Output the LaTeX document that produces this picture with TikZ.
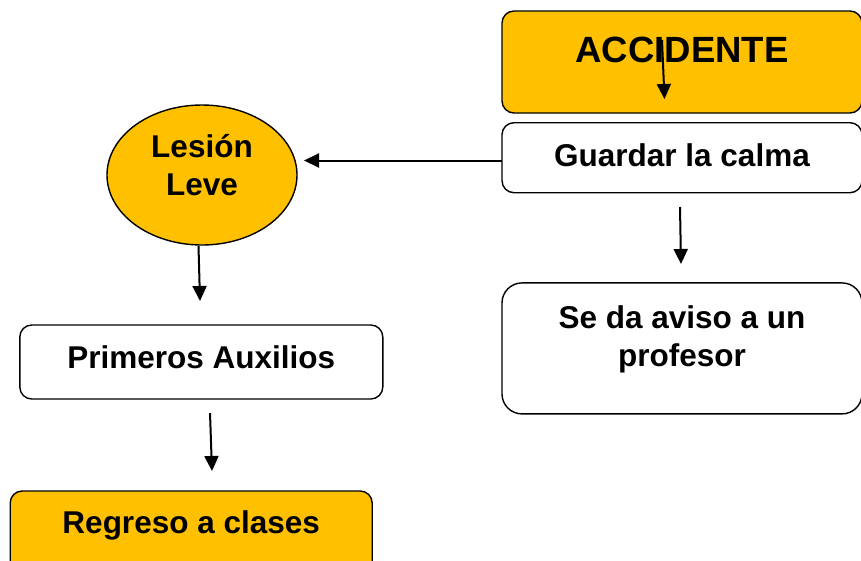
\documentclass[tikz,border=0pt]{standalone}
\usepackage{fontspec}
\setmainfont{Liberation Sans}
\usetikzlibrary{arrows.meta,shapes.geometric}
\definecolor{amber}{HTML}{FFC000}
\begin{document}
\begin{tikzpicture}[x=1pt,y=-1pt,
  box/.style={draw=black, line width=1.4pt, rounded corners=12pt, inner sep=0pt, fill=white},
  fillbox/.style={box, fill=amber},
  txt/.style={font=\fontsize{31.5}{38.5}\selectfont\bfseries, align=center, inner sep=0pt},
  arr/.style={line width=2pt, -{Triangle[width=14pt,length=15pt]}}]
\useasboundingbox (0,0) rectangle (861,560);
\clip (0,0) rectangle (861,560);

% boxes
\node[fillbox, minimum width=360pt, minimum height=102pt,
  label={[txt, name=accT, font=\fontsize{36.5}{40}\selectfont\bfseries, yshift=12pt]center:ACCIDENTE}]
  (acc) at (682,62) {};
\node[box, minimum width=360pt, minimum height=70pt,
  label={[txt, name=calmaT, yshift=2pt]center:Guardar la calma}]
  (calma) at (682,157.7) {};
\node[box, rounded corners=20pt, minimum width=360pt, minimum height=131pt,
  label={[txt, name=avisoT, yshift=9pt]center:{Se da aviso a un\\profesor}}]
  (aviso) at (682,348.4) {};
\node[ellipse, draw=black, line width=1.4pt, fill=amber, minimum width=190pt, minimum height=140pt, inner sep=0pt,
  label={[txt, name=lesionT, yshift=10pt]center:{Lesión\\Leve}}]
  (lesion) at (202,175) {};
\node[box, minimum width=363pt, minimum height=74pt,
  label={[txt, name=primT, yshift=4.5pt]center:Primeros Auxilios}]
  (prim) at (201.3,362) {};
\node[fillbox, minimum width=362pt, minimum height=84pt,
  label={[txt, name=regT, yshift=8pt]center:Regreso a clases}]
  (reg) at (191.2,533) {};

% connector ends
\coordinate (a1s) at (662,40);   \coordinate (a1e) at (664.5,99);
\coordinate (a2s) at (502,160.5);\coordinate (a2e) at (304,160.5);
\coordinate (a3s) at (198.5,246);\coordinate (a3e) at (200,301);
\coordinate (a4s) at (210,413);  \coordinate (a4e) at (212,471);
\coordinate (a5s) at (680,207);  \coordinate (a5e) at (681,264);

\draw[arr] (a1s) -- (a1e);
\draw[arr] (a2s) -- (a2e);
\draw[arr] (a3s) -- (a3e);
\draw[arr] (a4s) -- (a4e);
\draw[arr] (a5s) -- (a5e);
\end{tikzpicture}
\end{document}
